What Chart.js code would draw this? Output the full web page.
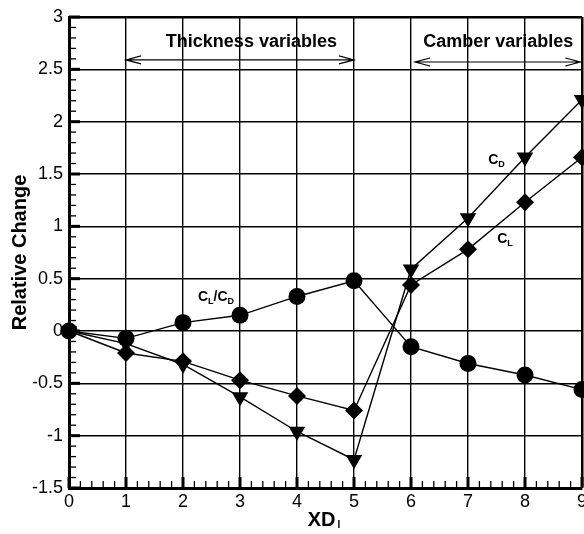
<!DOCTYPE html>
<html>
<head>
<meta charset="utf-8">
<script src="https://cdn.jsdelivr.net/npm/chart.js@4/dist/chart.umd.min.js"></script>
<style>
  html, body { margin: 0; padding: 0; background: #fff; }
  #wrap { width: 584px; height: 534px; }
</style>
</head>
<body>
<div id="wrap"><canvas id="chart"></canvas></div>
<script>
// values
const xdValues = [0, 1, 2, 3, 4, 5, 6, 7, 8, 9];
const clcdValues = [0, -0.07, 0.08, 0.15, 0.33, 0.48, -0.15, -0.31, -0.42, -0.56];
const clValues = [0, -0.21, -0.29, -0.47, -0.62, -0.76, 0.44, 0.78, 1.23, 1.66];
const cdValues = [0, -0.12, -0.32, -0.63, -0.96, -1.23, 0.59, 1.08, 1.66, 2.21];
const xTicks = [0, 1, 2, 3, 4, 5, 6, 7, 8, 9];
const yTicks = [-1.5, -1, -0.5, 0, 0.5, 1, 1.5, 2, 2.5, 3];

const FONT = '"Liberation Sans", Arial, Helvetica, sans-serif';

function pts(ys) {
	return xdValues.map((x, i) => ({x: x, y: ys[i]}));
}

function drawSub(ctx, x, y, parts) {
	// parts: [text, isSub]
	let w = 0;
	parts.forEach(p => {
		ctx.font = p[1] ? 'bold 9px ' + FONT : 'bold 14px ' + FONT;
		w += ctx.measureText(p[0]).width;
	});
	let cx = x - w / 2;
	ctx.textAlign = 'left';
	ctx.textBaseline = 'alphabetic';
	parts.forEach(p => {
		ctx.font = p[1] ? 'bold 9px ' + FONT : 'bold 14px ' + FONT;
		ctx.fillText(p[0], cx, p[1] ? y + 3 : y);
		cx += ctx.measureText(p[0]).width;
	});
}

function arrow(ctx, x1, x2, y) {
	ctx.lineWidth = 1.2;
	ctx.beginPath();
	ctx.moveTo(x1, y); ctx.lineTo(x2, y);
	ctx.moveTo(x1 + 15, y - 4); ctx.lineTo(x1, y); ctx.lineTo(x1 + 15, y + 4);
	ctx.moveTo(x2 - 15, y - 4); ctx.lineTo(x2, y); ctx.lineTo(x2 - 15, y + 4);
	ctx.stroke();
}

const decor = {
	id: 'decor',
	afterDraw(chart) {
		const ctx = chart.ctx;
		const xs = chart.scales.x, ys = chart.scales.y, a = chart.chartArea;
		ctx.save();
		ctx.strokeStyle = '#000';
		ctx.fillStyle = '#000';
		// inward ticks
		for (let i = 0; i <= 45; i++) {
			const px = xs.getPixelForValue(i * 0.2);
			const major = i % 5 === 0;
			ctx.lineWidth = major ? 3 : 1.3;
			ctx.beginPath();
			ctx.moveTo(px, a.bottom);
			ctx.lineTo(px, a.bottom - (major ? 11 : 7));
			ctx.stroke();
		}
		for (let i = 0; i <= 45; i++) {
			const py = ys.getPixelForValue(-1.5 + i * 0.1);
			const major = i % 5 === 0;
			ctx.lineWidth = major ? 3 : 1.3;
			ctx.beginPath();
			ctx.moveTo(a.left, py);
			ctx.lineTo(a.left + (major ? 11 : 7), py);
			ctx.stroke();
		}
		// x tick labels (drawn here so the last one may run off the edge)
		ctx.font = '18px ' + FONT;
		ctx.textAlign = 'center';
		ctx.textBaseline = 'top';
		xTicks.forEach(v => ctx.fillText(String(v), xs.getPixelForValue(v), a.bottom + 5));
		// region annotations
		ctx.font = 'bold 18px ' + FONT;
		ctx.textAlign = 'center';
		ctx.textBaseline = 'middle';
		ctx.fillText('Thickness variables', xs.getPixelForValue(3.2), ys.getPixelForValue(2.76));
		ctx.fillText('Camber variables', xs.getPixelForValue(7.53), ys.getPixelForValue(2.76));
		arrow(ctx, xs.getPixelForValue(1), xs.getPixelForValue(5), ys.getPixelForValue(2.59));
		arrow(ctx, xs.getPixelForValue(6.07), xs.getPixelForValue(8.97), ys.getPixelForValue(2.57));
		// series labels
		drawSub(ctx, xs.getPixelForValue(7.5), ys.getPixelForValue(1.6), [['C', false], ['D', true]]);
		drawSub(ctx, xs.getPixelForValue(7.65), ys.getPixelForValue(0.84), [['C', false], ['L', true]]);
		drawSub(ctx, xs.getPixelForValue(2.58), ys.getPixelForValue(0.29), [['C', false], ['L', true], ['/C', false], ['D', true]]);
		// axis titles
		ctx.font = 'bold 20px ' + FONT;
		ctx.textAlign = 'center';
		ctx.textBaseline = 'middle';
		ctx.save();
		ctx.translate(20, (a.top + a.bottom) / 2);
		ctx.rotate(-Math.PI / 2);
		ctx.fillText('Relative Change', 0, 0);
		ctx.restore();
		const tx = (a.left + a.right) / 2;
		ctx.textAlign = 'right';
		ctx.fillText('XD', tx + 10, 520);
		ctx.font = 'bold 10px ' + FONT;
		ctx.textAlign = 'left';
		ctx.fillText('I', tx + 12, 525);
		ctx.restore();
	}
};

const gridWidth = (edge) => (c) => {
	const v = c.tick ? c.tick.value : null;
	if (v === 0 && !edge) return 3.5;
	if (v === edge) return 2.5;
	return 1.4;
};

new Chart(document.getElementById('chart'), {
	type: 'line',
	data: {
		datasets: [
			{
				label: 'CL/CD',
				data: pts(clcdValues),
				pointStyle: 'circle',
				pointRadius: 8.5,
				order: 0
			},
			{
				label: 'CL',
				data: pts(clValues),
				pointStyle: 'rectRot',
				pointRadius: 9,
				order: 1
			},
			{
				label: 'CD',
				data: pts(cdValues),
				pointStyle: 'triangle',
				pointRotation: 180,
				pointRadius: 9.5,
				order: 2
			}
		].map(d => Object.assign({
			borderColor: '#000',
			backgroundColor: '#000',
			borderWidth: 1.4,
			pointBorderWidth: 0,
			pointHoverRadius: 9,
			tension: 0,
			clip: false
		}, d))
	},
	options: {
		responsive: true,
		maintainAspectRatio: false,
		animation: false,
		events: [],
		layout: { autoPadding: false, padding: { top: 17, right: 2, left: 0, bottom: 0 } },
		plugins: {
			legend: { display: false },
			tooltip: { enabled: false }
		},
		scales: {
			x: {
				type: 'linear',
				min: 0,
				max: 9,
				afterBuildTicks: s => { s.ticks = xTicks.map(v => ({value: v})); },
				afterFit: s => { s.height = 46; s.paddingLeft = 0; s.paddingRight = 0; },
				ticks: { display: false },
				grid: { color: '#000', lineWidth: gridWidth(9), drawTicks: false },
				border: { display: true, color: '#000', width: 3 }
			},
			y: {
				type: 'linear',
				min: -1.5,
				max: 3,
				afterBuildTicks: s => { s.ticks = yTicks.map(v => ({value: v})); },
				afterFit: s => { s.width = 69; s.paddingTop = 0; s.paddingBottom = 0; },
				ticks: {
					color: '#000',
					padding: 6,
					font: { family: FONT, size: 18 },
					callback: v => String(v)
				},
				grid: { color: '#000', lineWidth: gridWidth(3), drawTicks: false },
				border: { display: true, color: '#000', width: 3 }
			}
		}
	},
	plugins: [decor]
});
</script>
</body>
</html>
